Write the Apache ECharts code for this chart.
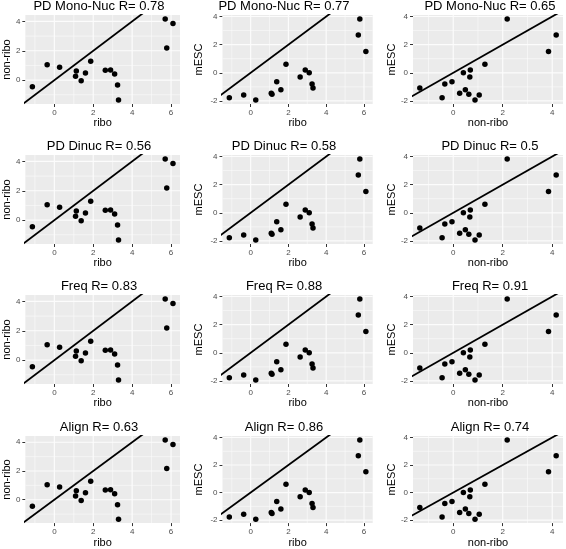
<!DOCTYPE html>
<html><head><meta charset="utf-8">
<script src="https://cdn.jsdelivr.net/npm/echarts@6/dist/echarts.min.js"></script>
<style>html,body{margin:0;padding:0;background:#fff}#c{width:566px;height:549px}</style>
</head><body><div id="c"></div>
<script>
// ---- data ----
const ribo    = [-1.13,-0.37,0.27,1.09,1.13,1.38,1.60,1.87,2.62,2.89,3.10,3.25,3.30,5.70,5.78,6.10];
const nonRibo = [-0.45,1.05,0.88,0.26,0.63,-0.05,0.49,1.28,0.67,0.69,0.41,-0.34,-1.35,4.16,2.18,3.85];
const mESC    = [-1.78,-1.57,-1.93,-1.45,-1.52,-0.64,-1.20,0.60,-0.30,0.19,0.00,-0.80,-1.08,2.68,3.82,1.52];
const rowNames = ['PD Mono-Nuc','PD Dinuc','Freq','Align'];
const rValues  = [[0.78,0.77,0.65],[0.56,0.58,0.5],[0.83,0.88,0.91],[0.63,0.86,0.74]];
const ticksRibo    = [0,2,4,6];
const minorRibo    = [-1,1,3,5];
const ticksNonRibo = [0,2,4];
const minorNonRibo = [-1,1,3];
const ticksMESC    = [-2,0,2,4];
const minorMESC    = [-1,1,3];
const identityLine = [-5, 10];

const vars = {
  ribo:      {name:'ribo',     data:ribo,    ticks:ticksRibo,    minor:minorRibo},
  'non-ribo':{name:'non-ribo', data:nonRibo, ticks:ticksNonRibo, minor:minorNonRibo},
  mESC:      {name:'mESC',     data:mESC,    ticks:ticksMESC,    minor:minorMESC}
};
const pairs = [['ribo','non-ribo'],['ribo','mESC'],['non-ribo','mESC']];

// ---- layout ----
const colBox = [[22.5,180],[222.5,372.7],[413,563]];
const rowTop = [15,155,295,436];
const panelH = 89;
const titleX = [99,284,490];
const yNameGap = [10,18.5,14];

function range(arr){
  const mn=Math.min(...arr), mx=Math.max(...arr), d=(mx-mn)*0.05;
  return [mn-d, mx+d];
}
const fmt = v => (v<0? '-'+Math.abs(v) : String(v));

const option = {animation:false, title:[], grid:[], xAxis:[], yAxis:[], series:[]};
const tickColor='#333333', labColor='#4D4D4D', font='Liberation Sans';
const gridLineColor = '#FCFCFC';

function addGridLine(xi, yi, coords, w){
  option.series.push({type:'line', xAxisIndex:xi, yAxisIndex:yi, data:coords, symbol:'none',
    showSymbol:false, silent:true, z:2, clip:false, color:gridLineColor,
    lineStyle:{color:gridLineColor, width:w, opacity:1}});
}

for(let r=0;r<4;r++){
  for(let c=0;c<3;c++){
    const g = option.grid.length;
    const [xv,yv] = pairs[c].map(k=>vars[k]);
    const xr = range(xv.data), yr = range(yv.data);
    option.grid.push({left:colBox[c][0], top:rowTop[r], width:colBox[c][1]-colBox[c][0], height:panelH,
      show:true, backgroundColor:'#EBEBEB', borderWidth:0, containLabel:false, z:0});
    option.title.push({text: rowNames[r]+' R= '+rValues[r][c], left:titleX[c], top:rowTop[r]-15,
      textAlign:'center', padding:0,
      textStyle:{fontFamily:font, fontSize:13, fontWeight:'normal', color:'#000'}});
    const xi = option.xAxis.length;
    option.xAxis.push({type:'value', gridIndex:g, min:xr[0], max:xr[1], position:'bottom',
      name:xv.name, nameLocation:'middle', nameGap:12,
      nameTextStyle:{fontFamily:font, fontSize:11, color:'#000'},
      axisLine:{show:false, onZero:false}, axisTick:{show:true, length:3, customValues:xv.ticks, lineStyle:{color:tickColor, width:1}},
      axisLabel:{show:true, customValues:xv.ticks, margin:5, fontFamily:font, fontSize:8, color:labColor, formatter:fmt},
      splitLine:{show:false}});
    const yi = option.yAxis.length;
    option.yAxis.push({type:'value', gridIndex:g, min:yr[0], max:yr[1], position:'left',
      name:yv.name, nameLocation:'middle', nameGap:yNameGap[c],
      nameTextStyle:{fontFamily:font, fontSize:11, color:'#000'},
      axisLine:{show:false, onZero:false}, axisTick:{show:true, length:3, customValues:yv.ticks, lineStyle:{color:tickColor, width:1}},
      axisLabel:{show:true, customValues:yv.ticks, margin:5, fontFamily:font, fontSize:8, color:labColor, formatter:fmt},
      splitLine:{show:false}});
    // panel grid lines (near-white, minor then major) placed through the axes' scales
    xv.minor.forEach(v=>addGridLine(xi, yi, [[v,yr[0]],[v,yr[1]]], 0.6));
    yv.minor.forEach(v=>addGridLine(xi, yi, [[xr[0],v],[xr[1],v]], 0.6));
    xv.ticks.forEach(v=>addGridLine(xi, yi, [[v,yr[0]],[v,yr[1]]], 1.2));
    yv.ticks.forEach(v=>addGridLine(xi, yi, [[xr[0],v],[xr[1],v]], 1.2));
    option.series.push({type:'line', xAxisIndex:xi, yAxisIndex:yi, data:identityLine.map(v=>[v,v]),
      symbol:'none', clip:true, silent:true, lineStyle:{color:'#000', width:1.8}, z:3});
    option.series.push({type:'scatter', xAxisIndex:xi, yAxisIndex:yi,
      data:xv.data.map((x,i)=>[x, yv.data[i]]), symbolSize:5.5, itemStyle:{color:'#000', opacity:1}, silent:true, z:4});
  }
}
const chart = echarts.init(document.getElementById('c'), null, {renderer:'canvas'});
chart.setOption(option);
</script></body></html>
